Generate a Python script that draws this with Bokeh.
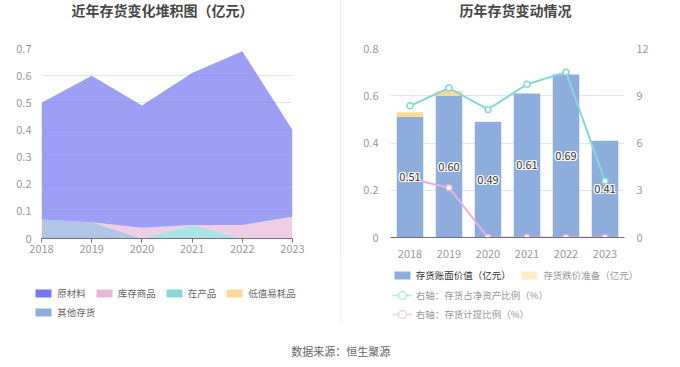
import numpy as np
from bokeh.plotting import figure
from bokeh.models import (Range1d, FactorRange, LinearAxis, Legend, LegendItem, Label,
                          FixedTicker, CustomJSTickFormatter, BoxAnnotation)
from bokeh.layouts import row, column
from bokeh.embed import file_html
from bokeh.resources import INLINE
from bokeh.core.properties import value

# ---------------- data ----------------
years = ["2018", "2019", "2020", "2021", "2022", "2023"]
year_nums = [2018, 2019, 2020, 2021, 2022, 2023]

# left chart (亿元), stacked bottom -> top
other = [0.07, 0.06, 0.0, 0.0, 0.0, 0.0]      # 其他存货
low = [0.0, 0.0, 0.0, 0.0, 0.0, 0.0]          # 低值易耗品
wip = [0.0, 0.0, 0.0, 0.05, 0.0, 0.0]         # 在产品
goods = [0.0, 0.0, 0.04, 0.0, 0.05, 0.08]     # 库存商品
raw = [0.43, 0.54, 0.45, 0.56, 0.64, 0.32]    # 原材料

# right chart
book = [0.51, 0.60, 0.49, 0.61, 0.69, 0.41]   # 存货账面价值（亿元）
prov = [0.02, 0.02, 0.0, 0.0, 0.0, 0.0]       # 存货跌价准备（亿元）
ratio_net = [8.36, 9.49, 8.13, 9.73, 10.5, 3.58]  # 存货占净资产比例（%）
ratio_prov = [3.73, 3.16, 0.0, 0.0, 0.0, 0.0]     # 存货计提比例（%）

left_ticks = [0, 0.1, 0.2, 0.3, 0.4, 0.5, 0.6, 0.7]
right_ticks_l = [0, 0.2, 0.4, 0.6, 0.8]
right_ticks_r = [0, 3, 6, 9, 12]

# ---------------- style ----------------
FONT = "Noto Sans CJK SC"
C_RAW = "#7376F0"
C_GOODS = "#E8B8D8"
C_WIP = "#86D8D8"
C_LOW = "#FFD995"
C_OTHER = "#8DAEDC"
C_BAR = "#8DAEDC"
C_PROV = "#FFD995"
C_LINE1 = "#86D8D8"
C_LINE2 = "#E8B0D8"
GRID = "#E0E6F1"
TICK = "#999999"
AXIS = "#6E7079"

WL, WR, WFULL = 340, 339, 680
H_TITLE, H_CHART, H_BOTTOM = 40, 220, 107
fmt = CustomJSTickFormatter(code="return tick == 0 ? '0' : tick.toFixed(1);")


def blank(width, height):
    p = figure(width=width, height=height, x_range=Range1d(0, width), y_range=Range1d(0, height),
               output_backend="svg", toolbar_location=None, x_axis_type=None, y_axis_type=None,
               min_border_left=0, min_border_right=0, min_border_top=0, min_border_bottom=0,
               frame_align=False)
    p.outline_line_color = None
    p.grid.visible = False
    return p


def add_leg(p, items, x, y, color, gh=10, spacing=8):
    leg = Legend(items=[LegendItem(label=lab, renderers=rs) for lab, rs in items],
                 location=(x, y), orientation="horizontal", padding=0, margin=0,
                 spacing=spacing, glyph_width=20, glyph_height=gh, label_height=10,
                 label_standoff=4, label_text_font=FONT, label_text_font_size="9.5px",
                 label_text_color=color, border_line_color=None,
                 background_fill_alpha=0)
    p.add_layout(leg)
    return leg


def title_fig(width, x, text):
    p = blank(width, H_TITLE)
    p.add_layout(Label(x=x, y=H_TITLE - 9, x_units="screen", y_units="screen", text=text,
                       text_align="center", text_baseline="middle", text_font=FONT,
                       text_font_size="14px", text_font_style="bold", text_color="#464646"))
    return p


# ================= left chart =================
t1 = title_fig(WL, 162, "近年存货变化堆积图（亿元）")

p1 = figure(width=WL, height=H_CHART, x_range=Range1d(2018, 2023), y_range=Range1d(0, 0.7),
            output_backend="svg", toolbar_location=None, frame_align=False,
            min_border_left=41, min_border_right=48, min_border_top=8, min_border_bottom=22)
p1.outline_line_color = None
p1.xgrid.visible = False
p1.ygrid.grid_line_color = GRID
p1.ygrid.ticker = FixedTicker(ticks=left_ticks)

layers = [("其他存货", other, C_OTHER), ("低值易耗品", low, C_LOW), ("在产品", wip, C_WIP),
          ("库存商品", goods, C_GOODS), ("原材料", raw, C_RAW)]
base = np.zeros(len(years))
for name, vals, col in layers:
    top = base + np.array(vals)
    p1.varea(x=year_nums, y1=list(base), y2=list(top), fill_color=col, fill_alpha=0.7)
    base = top

p1.xaxis.ticker = FixedTicker(ticks=year_nums)
p1.xaxis.axis_line_color = AXIS
p1.xaxis.major_tick_line_color = AXIS
p1.xaxis.major_tick_out = 4
p1.xaxis.major_tick_in = 0
p1.xaxis.minor_tick_line_color = None
p1.xaxis.major_label_standoff = 2
p1.yaxis.ticker = FixedTicker(ticks=left_ticks)
p1.yaxis.formatter = fmt
p1.yaxis.axis_line_color = None
p1.yaxis.major_tick_line_color = None
p1.yaxis.minor_tick_line_color = None
p1.yaxis.major_label_standoff = 4
for ax in (p1.xaxis[0], p1.yaxis[0]):
    ax.major_label_text_font = FONT
    ax.major_label_text_font_size = "11px"
    ax.major_label_text_color = TICK

# ================= right chart =================
t2 = title_fig(WR, 174, "历年存货变动情况")

p2 = figure(width=WR, height=H_CHART, x_range=FactorRange(*years), y_range=Range1d(0, 0.8),
            output_backend="svg", toolbar_location=None, frame_align=False,
            min_border_left=49, min_border_right=56, min_border_top=8, min_border_bottom=22)
p2.extra_y_ranges = {"right": Range1d(0, 12)}
p2.outline_line_color = None
p2.xgrid.visible = False
p2.ygrid.grid_line_color = GRID
p2.ygrid.ticker = FixedTicker(ticks=right_ticks_l)

bar_top = [b + q for b, q in zip(book, prov)]
p2.vbar(x=years, top=book, width=0.68, fill_color=C_BAR, line_color=None)
p2.vbar(x=years, bottom=book, top=bar_top, width=0.68, fill_color=C_PROV, line_color=None)

p2.line(x=years, y=ratio_net, y_range_name="right", line_color=C_LINE1, line_width=2)
p2.scatter(x=years, y=ratio_net, y_range_name="right", size=6, fill_color="white",
           line_color=C_LINE1, line_width=1.5)
p2.line(x=years, y=ratio_prov, y_range_name="right", line_color=C_LINE2, line_width=2)
p2.scatter(x=years, y=ratio_prov, y_range_name="right", size=6, fill_color="white",
           line_color=C_LINE2, line_width=1.5)

# bar labels with white halo
lab_y = [b / 2 for b in book]
lab_t = [f"{b:.2f}" for b in book]
for dx, dy in [(-1, 0), (1, 0), (0, -1), (0, 1), (-1, -1), (1, 1), (-1, 1), (1, -1)]:
    p2.text(x=years, y=lab_y, text=lab_t, x_offset=dx, y_offset=dy, text_align="center",
            text_baseline="middle", text_font=value(FONT), text_font_size="11px",
            text_color="white")
p2.text(x=years, y=lab_y, text=lab_t, text_align="center", text_baseline="middle",
        text_font=value(FONT), text_font_size="11px", text_color="#333333")

p2.xaxis.axis_line_color = AXIS
p2.xaxis.major_tick_line_color = None
p2.xaxis.major_label_standoff = 6
p2.yaxis.ticker = FixedTicker(ticks=right_ticks_l)
p2.yaxis.formatter = fmt
p2.yaxis.axis_line_color = None
p2.yaxis.major_tick_line_color = None
p2.yaxis.minor_tick_line_color = None
p2.yaxis.major_label_standoff = 6
ax_r = LinearAxis(y_range_name="right", ticker=FixedTicker(ticks=right_ticks_r),
                  axis_line_color=None, major_tick_line_color=None,
                  minor_tick_line_color=None, major_label_standoff=6)
p2.add_layout(ax_r, "right")
for ax in (p2.xaxis[0], p2.yaxis[0], ax_r):
    ax.major_label_text_font = FONT
    ax.major_label_text_font_size = "11px"
    ax.major_label_text_color = TICK

# ================= bottom strip: legends + source =================
# legend proxies use the data but lie outside this strip's visible range
b = blank(WFULL, H_BOTTOM)
leg_items1 = [("原材料", raw, C_RAW), ("库存商品", goods, C_GOODS), ("在产品", wip, C_WIP),
              ("低值易耗品", low, C_LOW), ("其他存货", other, C_OTHER)]
rs1 = [(lab, [b.varea(x=year_nums, y1=[0] * 6, y2=vals, fill_color=col, fill_alpha=1.0)])
       for lab, vals, col in leg_items1]
add_leg(b, rs1[:4], 33.3, 73 - 6, "#666666")
add_leg(b, rs1[4:], 33.3, 54.3 - 6, "#666666")

rb = b.varea(x=year_nums, y1=[0] * 6, y2=book, fill_color=C_BAR, fill_alpha=1.0)
rp = b.varea(x=year_nums, y1=[0] * 6, y2=prov, fill_color=C_PROV, fill_alpha=0.5)
dl1 = b.line(x=year_nums, y=ratio_net, line_color=C_LINE1, line_width=1.5, line_alpha=0.6)
ds1 = b.scatter(x=year_nums, y=ratio_net, size=8, fill_color="white", line_color=C_LINE1,
                line_width=1.5, line_alpha=0.6)
dl2 = b.line(x=year_nums, y=ratio_prov, line_color=C_LINE2, line_width=1.5, line_alpha=0.6)
ds2 = b.scatter(x=year_nums, y=ratio_prov, size=8, fill_color="white", line_color=C_LINE2,
                line_width=1.5, line_alpha=0.6)
add_leg(b, [("存货账面价值（亿元）", [rb])], 391.7, 91.3 - 6, "#333333")
add_leg(b, [("存货跌价准备（亿元）", [rp])], 519.3, 91.3 - 6, "#999999")
add_leg(b, [("右轴：存货占净资产比例（%）", [dl1, ds1])], 391.7, 72 - 10, "#999999", gh=20)
add_leg(b, [("右轴：存货计提比例（%）", [dl2, ds2])], 391.7, 53 - 10, "#999999", gh=20)

b.add_layout(BoxAnnotation(left=340, right=341, bottom=44, top=H_BOTTOM,
                           left_units="screen", right_units="screen",
                           bottom_units="screen", top_units="screen",
                           fill_color="#EEEEEE", fill_alpha=1.0, line_color=None))
b.add_layout(Label(x=290.7, y=17, x_units="screen", y_units="screen",
                   text="数据来源：恒生聚源", text_align="left", text_baseline="middle",
                   text_font=FONT, text_font_size="11px", text_color="#666666"))

left_col = column(t1, p1)
right_col = column(t2, p2, styles={"border-left": "1px solid #EEEEEE"})

layout = column(row(left_col, right_col), b)
open("out.html", "w").write(file_html(layout, INLINE))
